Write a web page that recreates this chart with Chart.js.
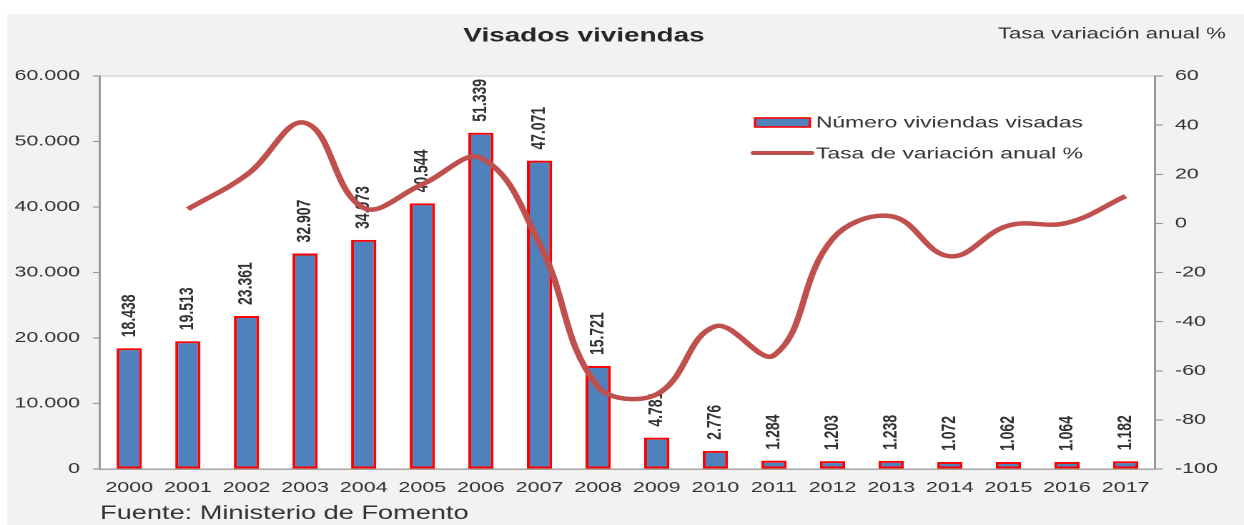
<!DOCTYPE html>
<html>
<head>
<meta charset="utf-8">
<script src="https://cdn.jsdelivr.net/npm/chart.js@4"></script>
<style>
  body { margin: 0; background: #fff; font-family: "Liberation Sans", Arial, sans-serif; }
  #bg { position: absolute; left: 7px; top: 14px; width: 1237px; height: 511px; background: #f2f2f2; }
</style>
</head>
<body>
<div id="bg"></div>
<!-- el gráfico original está estirado en horizontal: se dibuja a 870px y se muestra a 1244px -->
<canvas id="c" width="870" height="525" style="position:absolute;left:0;top:0;width:1244px;height:525px"></canvas>
<script>
// datos
const years = ["2000", "2001", "2002", "2003", "2004", "2005", "2006", "2007", "2008",
  "2009", "2010", "2011", "2012", "2013", "2014", "2015", "2016", "2017"];
const viviendas = [18438, 19513, 23361, 32907, 34973, 40544, 51339, 47071, 15721,
  4781, 2776, 1284, 1203, 1238, 1072, 1062, 1064, 1182];
const tasa = [null, 5.8, 19.7, 40.9, 6.3, 15.9, 26.6, -8.3, -66.6,
  -69.6, -41.9, -53.7, -6.3, 2.9, -13.4, -0.9, 0.2, 11.1];

const FONT = '"Liberation Sans", Arial, sans-serif';
const miles = (v) => String(v).replace(/\B(?=(\d{3})+(?!\d))/g, ".");

// fondo blanco del área de trazado + línea superior
const plotBg = {
  id: "plotBg",
  beforeDraw(chart) {
    const { ctx, chartArea: a } = chart;
    ctx.save();
    ctx.fillStyle = "#fff";
    ctx.fillRect(a.left, a.top, a.right - a.left, a.bottom - a.top);
    ctx.strokeStyle = "#d9d9d9";
    ctx.lineWidth = 1.5;
    ctx.beginPath();
    ctx.moveTo(a.left, a.top);
    ctx.lineTo(a.right, a.top);
    ctx.stroke();
    ctx.restore();
  }
};

// etiquetas verticales encima de las barras
const barLabels = {
  id: "barLabels",
  afterDatasetDraw(chart, args) {
    if (args.index !== 1) return;
    const { ctx } = chart;
    ctx.save();
    ctx.fillStyle = "#333";
    ctx.font = `bold 14px ${FONT}`;
    ctx.textAlign = "left";
    ctx.textBaseline = "middle";
    args.meta.data.forEach((bar, i) => {
      ctx.save();
      ctx.translate(bar.x, bar.y - 11);
      ctx.rotate(-Math.PI / 2);
      ctx.fillText(miles(viviendas[i]), 0, 0);
      ctx.restore();
    });
    ctx.restore();
  }
};

// títulos, leyenda y fuente
const extras = {
  id: "extras",
  afterDraw(chart) {
    const { ctx } = chart;
    ctx.save();
    ctx.fillStyle = "#262626";
    ctx.textBaseline = "middle";
    ctx.font = `bold 19.5px ${FONT}`;
    ctx.textAlign = "center";
    ctx.fillText("Visados viviendas", 408.4, 36);

    ctx.fillStyle = "#333";
    ctx.font = `15.5px ${FONT}`;
    ctx.textAlign = "right";
    ctx.fillText("Tasa variación anual %", 857.3, 34);

    // leyenda
    ctx.fillStyle = "#4F81BD";
    ctx.fillRect(528, 118, 38.4, 9);
    ctx.strokeStyle = "#FF0000";
    ctx.lineWidth = 1.6;
    ctx.strokeRect(528, 118, 38.4, 9);
    ctx.strokeStyle = "#C0504D";
    ctx.lineWidth = 4;
    ctx.lineCap = "round";
    ctx.beginPath();
    ctx.moveTo(527, 153);
    ctx.lineTo(567.5, 153);
    ctx.stroke();
    ctx.fillStyle = "#333";
    ctx.font = `16px ${FONT}`;
    ctx.textAlign = "left";
    ctx.fillText("Número viviendas visadas", 570.6, 123);
    ctx.fillText("Tasa de variación anual %", 570.6, 154);

    ctx.font = `19px ${FONT}`;
    ctx.fillText("Fuente: Ministerio de Fomento", 70, 514);
    ctx.restore();
  }
};

new Chart(document.getElementById("c"), {
  type: "bar",
  data: {
    labels: years,
    datasets: [
      {
        type: "line",
        label: "Tasa de variación anual %",
        data: tasa,
        yAxisID: "y1",
        borderColor: "#C0504D",
        borderWidth: 4.5,
        pointRadius: 0,
        tension: 0.4,
        order: 0
      },
      {
        label: "Número viviendas visadas",
        data: viviendas,
        yAxisID: "y",
        backgroundColor: "#4F81BD",
        borderColor: "#FF0000",
        borderWidth: 2,
        borderSkipped: false,
        barPercentage: 0.43,
        categoryPercentage: 1,
        order: 1
      }
    ]
  },
  options: {
    responsive: false,
    devicePixelRatio: 2,
    animation: false,
    layout: { padding: { top: 76, left: 0, right: 0, bottom: 0 } },
    plugins: {
      legend: { display: false },
      tooltip: { enabled: false }
    },
    scales: {
      x: {
        grid: { display: false, drawTicks: false },
        border: { display: true, color: "#a6a6a6", width: 1.5 },
        ticks: { color: "#333", font: { family: FONT, size: 15 }, padding: 10, maxRotation: 0, autoSkip: false },
        afterFit: (s) => { s.height = 56; }
      },
      y: {
        position: "left",
        min: 0,
        max: 60000,
        ticks: { stepSize: 10000, color: "#333", font: { family: FONT, size: 15 }, padding: 9, callback: (v) => miles(v) },
        grid: { drawOnChartArea: false, tickLength: 4.9, color: "#999", tickWidth: 1.2 },
        border: { color: "#999", width: 1.5 },
        afterFit: (s) => { s.width = 69.9; }
      },
      y1: {
        position: "right",
        min: -100,
        max: 60,
        ticks: { stepSize: 20, color: "#333", font: { family: FONT, size: 15 }, padding: 8.4 },
        grid: { drawOnChartArea: false, tickLength: 5.6, color: "#999", tickWidth: 1.2 },
        border: { color: "#999", width: 1.5 },
        afterFit: (s) => { s.width = 62.3; }
      }
    }
  },
  plugins: [plotBg, barLabels, extras]
});
</script>
</body>
</html>
